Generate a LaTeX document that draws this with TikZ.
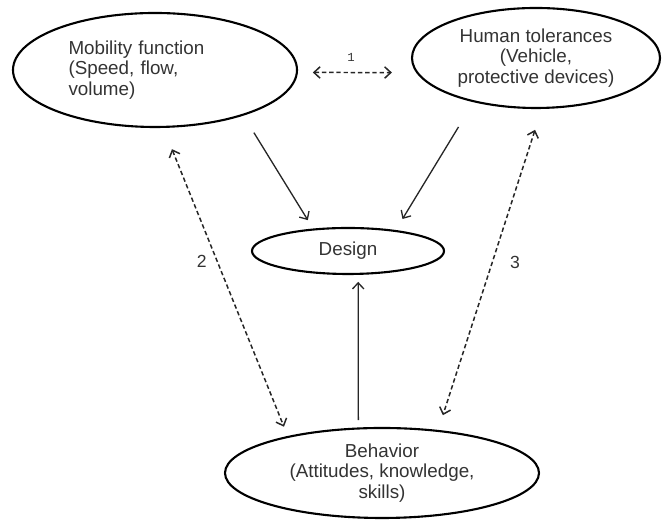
\documentclass[tikz,border=0pt]{standalone}
\usepackage{fontspec}
\setmainfont{Liberation Sans}
\newfontfamily\numfont{Liberation Mono}
\usetikzlibrary{shapes,arrows.meta}
\tikzstyle{bubble} = [ellipse, draw=black, line width=1.2pt, inner sep=0pt, outer sep=0pt, align=center, text=black!80, font=\fontsize{10.7}{11.5}\selectfont]
\tikzstyle{arrow} = [line width=0.75pt, black!85, ->, >={Straight Barb[length=3.5pt,width=6.5pt]}]
\tikzstyle{dasharrow} = [arrow, <->, line width=0.85pt, dash pattern=on 2.5pt off 1.6pt]
\tikzstyle{num} = [inner sep=0pt, text=black!80]

\begin{document}
\begin{tikzpicture}
        \useasboundingbox (0,0) rectangle (13.24,10.4);

        \node (mob) [bubble, minimum width=5.68cm, minimum height=2.28cm, text width=3.46cm, align=left] at (3.10,9.00) {Mobility function\\(Speed, flow,\\volume)};
        \node (hum) [bubble, minimum width=4.96cm, minimum height=2.0cm] at (10.72,9.24) {Human tolerances\\(Vehicle,\\protective devices)};
        \node (des) [bubble, minimum width=3.84cm, minimum height=0.92cm] at (6.96,5.38) {Design};
        \node (beh) [bubble, minimum width=6.28cm, minimum height=1.8cm] at (7.64,0.94) {Behavior\\(Attitudes, knowledge,\\skills)};

        \draw[arrow, shorten <=0.42cm, shorten >=0.22cm] (mob.-27) -- (des.148);
        \draw[arrow, shorten <=0.60cm, shorten >=0.28cm] (hum.-145) -- (des.23);
        \draw[arrow, shorten <=0.17cm, shorten >=0.16cm] (beh.118) -- (des.-66);

        \draw[dasharrow, shorten <=0.32cm, shorten >=0.51cm] (mob.-1) -- (hum.-173)
            node (n1) [num, pos=0.45, above=0.2cm, font=\numfont\fontsize{7}{8}\selectfont] {1};
        \draw[dasharrow, shorten <=0.48cm, shorten >=0.22cm] (mob.-82) -- (beh.159)
            node (n2) [num, pos=0.435, left=0.2cm, font=\fontsize{10}{11}\selectfont] {2};
        \draw[dasharrow, shorten <=0.46cm, shorten >=0.33cm] (hum.-83) -- (beh.37)
            node (n3) [num, pos=0.477, right=0.34cm, font=\fontsize{10}{11}\selectfont] {3};

\end{tikzpicture}
\end{document}
